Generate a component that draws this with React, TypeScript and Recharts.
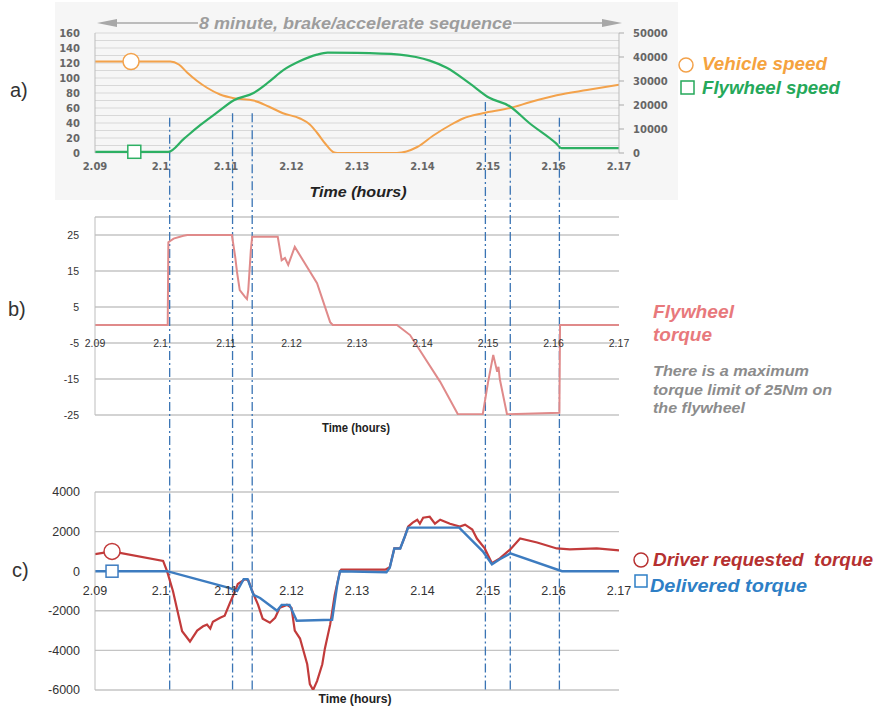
import React from "react";
import {
  LineChart,
  Line,
  XAxis,
  YAxis,
  CartesianGrid,
  ReferenceLine,
  ReferenceDot,
} from "recharts";

// time axis (hours) shared by all three panels
const timeTicks = [2.09, 2.1, 2.11, 2.12, 2.13, 2.14, 2.15, 2.16, 2.17];
// instants marked by the blue dash-dot lines
const eventTimes = [2.1014, 2.111, 2.114, 2.1496, 2.1534, 2.1609];
// where the lines start in panel a) (km/h scale)
const eventTopsA = [47, 53, 53, 68, 47, 47];

// a) vehicle speed (left axis) and flywheel speed (right axis, rpm)
const vehicleSpeed = [
  [2.09, 122], [2.1015, 122], [2.1028, 118], [2.1041, 107], [2.1056, 96],
  [2.1071, 87], [2.1091, 78], [2.1112, 73], [2.1142, 70], [2.1165, 62],
  [2.1187, 53], [2.1213, 46], [2.1228, 38], [2.1239, 27], [2.1252, 12],
  [2.1264, 1], [2.127, 0], [2.1361, 0], [2.1392, 8], [2.1416, 23],
  [2.1442, 37], [2.1462, 46], [2.1492, 53], [2.1534, 60], [2.1565, 68],
  [2.1605, 77], [2.1651, 84], [2.17, 91],
];
const flywheelSpeed = [
  [2.09, 500], [2.1012, 500], [2.1036, 6000], [2.1061, 11700], [2.1087, 17000],
  [2.1112, 22000], [2.1142, 25000], [2.1165, 29500], [2.1188, 34600], [2.1213, 38300],
  [2.1239, 41000], [2.1255, 41800], [2.13, 41700], [2.1365, 41000], [2.139, 40000],
  [2.1411, 38500], [2.1437, 35500], [2.1472, 29000], [2.1502, 23000], [2.1533, 19500],
  [2.1563, 12500], [2.1604, 4000], [2.1612, 2000], [2.17, 2000],
];
const speedTicks = [0, 10, 20, 30, 40, 50, 60, 70, 80, 90, 100, 110, 120, 130, 140, 150, 160];
const rpmTicks = [0, 10000, 20000, 30000, 40000, 50000];
const vehicleMarker = [2.0955, 122];
const flywheelMarker = [2.096, 500];

// b) flywheel torque (Nm)
const flywheelTorque = [
  [2.09, 0], [2.1011, 0], [2.1012, 23], [2.102, 24], [2.1035, 24.8], [2.1041, 25],
  [2.1109, 25], [2.1114, 19], [2.1117, 14.5], [2.1121, 9.7], [2.1129, 7.8],
  [2.1132, 7.2], [2.1134, 9.7], [2.1138, 21], [2.114, 24.5], [2.1179, 24.5],
  [2.1185, 18], [2.119, 18.6], [2.1195, 16.7], [2.1205, 21.7], [2.1239, 11.6],
  [2.1259, 0.8], [2.1263, 0], [2.1361, 0], [2.1381, -2.8], [2.1427, -15.8],
  [2.1454, -24.8], [2.1492, -24.8], [2.15, -16], [2.1508, -8.3], [2.1514, -13],
  [2.1516, -11.6], [2.1518, -15], [2.1529, -24.8], [2.1609, -24.4], [2.161, 0],
  [2.17, 0],
];
const torqueTicks = [-25, -15, -5, 5, 15, 25];

// c) driver requested vs delivered torque
const driverTorque = [
  [2.09, 860], [2.0926, 1000], [2.1004, 520], [2.101, 0], [2.1019, -1000],
  [2.1033, -3030], [2.1045, -3550], [2.1056, -3000], [2.1065, -2780], [2.1071, -2700],
  [2.1076, -2900], [2.108, -2550], [2.1091, -2350], [2.1098, -2250], [2.1106, -1600],
  [2.1114, -1000], [2.1118, -650], [2.1129, -400], [2.1134, -450], [2.114, -1000],
  [2.1149, -1700], [2.1156, -2400], [2.1167, -2600], [2.1175, -2350], [2.1182, -1850],
  [2.1193, -1700], [2.12, -1850], [2.1205, -3000], [2.1213, -3400], [2.1224, -4700],
  [2.1228, -5700], [2.1233, -6000], [2.1239, -5550], [2.1247, -4700], [2.1251, -3900],
  [2.1259, -2700], [2.1266, -1200], [2.1274, 0], [2.1276, 80], [2.1343, 80],
  [2.135, 200], [2.1357, 1150], [2.1366, 1150], [2.1373, 1750], [2.1378, 2250],
  [2.1385, 2450], [2.1392, 2600], [2.1396, 2400], [2.1401, 2700], [2.1411, 2750],
  [2.1419, 2400], [2.1427, 2600], [2.1442, 2400], [2.1457, 2250], [2.1465, 2350],
  [2.1476, 2100], [2.1483, 1650], [2.1495, 1150], [2.1506, 400], [2.1518, 650],
  [2.1534, 1100], [2.1549, 1650], [2.1575, 1450], [2.1605, 1150], [2.1625, 1100],
  [2.1666, 1150], [2.17, 1050],
];
const deliveredTorque = [
  [2.09, 0], [2.101, 0], [2.1106, -850], [2.1117, -1000], [2.1127, -400],
  [2.1133, -400], [2.1142, -1200], [2.1152, -1350], [2.1178, -2000], [2.1185, -1700],
  [2.1197, -1700], [2.1208, -2500], [2.1262, -2450], [2.127, -650], [2.1274, 0],
  [2.1345, -50], [2.135, 170], [2.1357, 1150], [2.1366, 1150], [2.1373, 1750],
  [2.1378, 2200], [2.1456, 2200], [2.1492, 1000], [2.1506, 350], [2.1518, 600],
  [2.1534, 900], [2.1613, 0], [2.17, 0],
];
const wheelTorqueTicks = [-6000, -4000, -2000, 0, 2000, 4000];
const driverMarker = [2.0926, 1000];
const deliveredMarker = [2.0926, 0];

const rows = (pts: number[][]) => pts.map(([t, v]) => ({ t, v }));

const EVENT = "#3a74b4";
const DASH = "9 3 2 3";
const SANS = '"Liberation Sans", Arial, sans-serif';

const TimeTick = (props: any) => {
  const { x, y, payload, lift, style } = props;
  return (
    <text x={x} y={y + lift} textAnchor="middle" dominantBaseline="central" style={style}>
      {Number(payload.value.toFixed(2))}
    </text>
  );
};

const Square = (size: number, color: string) => (p: any) => (
  <rect x={p.cx - size / 2} y={p.cy - size / 2} width={size} height={size} fill="#fff" stroke={color} strokeWidth={1.5} />
);

const boldTick = { fontFamily: "DejaVu Sans", fontWeight: "bold", fontSize: 10, fill: "#666" };

function PanelA() {
  return (
    <LineChart width={877} height={205} margin={{ top: 33, right: 208, bottom: 51, left: 55 }}>
      <CartesianGrid yAxisId="l" vertical={false} stroke="#d8d8d8" strokeWidth={1.2} />
      <XAxis
        dataKey="t" type="number" domain={[2.09, 2.17]} ticks={timeTicks} interval={0} allowDataOverflow
        height={1} tickSize={0} tickMargin={0} axisLine={false} tickLine={false}
        tick={(p: any) => <TimeTick {...p} lift={13} style={boldTick} />}
      />
      <YAxis
        yAxisId="l" domain={[0, 160]} ticks={speedTicks} interval={0} allowDataOverflow width={40}
        tickSize={0} tickMargin={15} axisLine={{ stroke: "#bdbdbd" }}
        tickFormatter={(v: number) => (v % 20 === 0 ? String(v) : "")} tick={boldTick}
      />
      <YAxis
        yAxisId="r" orientation="right" domain={[0, 50000]} ticks={rpmTicks} interval={0} allowDataOverflow
        width={50} tickSize={5} tickMargin={9} axisLine={{ stroke: "#bdbdbd" }} tickLine={{ stroke: "#aaa" }}
        tick={boldTick}
      />
      {eventTimes.map((t, i) => (
        <ReferenceLine key={i} yAxisId="l" segment={[{ x: t, y: eventTopsA[i] }, { x: t, y: -80 }]}
          ifOverflow="visible" stroke={EVENT} strokeWidth={1.3} strokeDasharray={DASH} />
      ))}
      <Line yAxisId="l" data={rows(vehicleSpeed)} dataKey="v" type="monotone" stroke="#f3a24b"
        strokeWidth={2} dot={false} activeDot={false} isAnimationActive={false} />
      <Line yAxisId="r" data={rows(flywheelSpeed)} dataKey="v" type="monotone" stroke="#2db063"
        strokeWidth={2.2} dot={false} activeDot={false} isAnimationActive={false} />
      <ReferenceDot yAxisId="l" x={vehicleMarker[0]} y={vehicleMarker[1]} r={8} fill="#fff" stroke="#f3a24b" strokeWidth={1.5} />
      <ReferenceDot yAxisId="r" x={flywheelMarker[0]} y={flywheelMarker[1]} r={6} shape={Square(13, "#2db063")} />
    </LineChart>
  );
}

function PanelB() {
  const tickStyle = { fontFamily: SANS, fontSize: 10.5, fill: "#333" };
  return (
    <LineChart width={877} height={250} margin={{ top: 12, right: 258, bottom: 39, left: 55 }}>
      <CartesianGrid vertical={false} stroke="#c4c4c4" strokeWidth={1.4} />
      <XAxis
        dataKey="t" type="number" domain={[2.09, 2.17]} ticks={timeTicks} interval={0} allowDataOverflow
        height={1} tickSize={0} tickMargin={0} axisLine={false} tickLine={false}
        tick={(p: any) => <TimeTick {...p} lift={-72} style={tickStyle} />}
      />
      <YAxis
        domain={[-25, 30]} ticks={torqueTicks} interval={0} allowDataOverflow width={40}
        tickSize={0} tickMargin={16} axisLine={{ stroke: "#bdbdbd" }} tick={tickStyle}
      />
      <ReferenceLine y={0} stroke="#bdbdbd" strokeWidth={1.4} />
      {eventTimes.map((t, i) => (
        <ReferenceLine key={i} segment={[{ x: t, y: 40 }, { x: t, y: -40 }]}
          ifOverflow="visible" stroke={EVENT} strokeWidth={1.3} strokeDasharray={DASH} />
      ))}
      <Line data={rows(flywheelTorque)} dataKey="v" type="linear" stroke="#e08a8a"
        strokeWidth={2} dot={false} activeDot={false} isAnimationActive={false} />
    </LineChart>
  );
}

function PanelC() {
  const tickStyle = { fontFamily: SANS, fontSize: 12.5, fill: "#333" };
  return (
    <LineChart width={877} height={254} margin={{ top: 37, right: 258, bottom: 18, left: 55 }}>
      <CartesianGrid vertical={false} stroke="#c4c4c4" strokeWidth={1.4} />
      <XAxis
        dataKey="t" type="number" domain={[2.09, 2.17]} ticks={timeTicks} interval={0} allowDataOverflow
        height={1} tickSize={0} tickMargin={0} axisLine={false} tickLine={false}
        tick={(p: any) => <TimeTick {...p} lift={-99} style={tickStyle} />}
      />
      <YAxis
        domain={[-6000, 4000]} ticks={wheelTorqueTicks} interval={0} allowDataOverflow width={40}
        tickSize={0} tickMargin={15} axisLine={{ stroke: "#bdbdbd" }} tick={tickStyle}
      />
      {eventTimes.map((t, i) => (
        <ReferenceLine key={i} segment={[{ x: t, y: 6500 }, { x: t, y: -6000 }]}
          ifOverflow="visible" stroke={EVENT} strokeWidth={1.3} strokeDasharray={DASH} />
      ))}
      <Line data={rows(driverTorque)} dataKey="v" type="linear" stroke="#c23b3b"
        strokeWidth={2.2} dot={false} activeDot={false} isAnimationActive={false} />
      <Line data={rows(deliveredTorque)} dataKey="v" type="linear" stroke="#3d7cc0"
        strokeWidth={2.4} dot={false} activeDot={false} isAnimationActive={false} />
      <ReferenceDot x={driverMarker[0]} y={driverMarker[1]} r={8} fill="#fff" stroke="#c23b3b" strokeWidth={1.5} />
      <ReferenceDot x={deliveredMarker[0]} y={deliveredMarker[1]} r={6} shape={Square(12, "#3d7cc0")} />
    </LineChart>
  );
}

export default function App() {
  const bi = { fontFamily: SANS, fontWeight: "bold", fontStyle: "italic" } as const;
  return (
    <div style={{ position: "absolute", left: 0, top: 0, width: 877, height: 709, background: "#fff", overflow: "hidden" }}>
      <div style={{ position: "absolute", left: 55, top: 2, width: 623, height: 198, background: "#f6f6f6" }} />
      <div style={{ position: "absolute", left: 0, top: 0 }}><PanelA /></div>
      <div style={{ position: "absolute", left: 0, top: 205 }}><PanelB /></div>
      <div style={{ position: "absolute", left: 0, top: 455 }}><PanelC /></div>
      <svg width={877} height={709} style={{ position: "absolute", left: 0, top: 0, pointerEvents: "none" }}>
        {/* sequence arrow */}
        <line x1={115} y1={23} x2={198} y2={23} stroke="#a8a8a8" strokeWidth={1.5} />
        <polygon points="97,23 117,19 117,27" fill="#a8a8a8" />
        <line x1={513} y1={23} x2={604} y2={23} stroke="#a8a8a8" strokeWidth={1.5} />
        <polygon points="622,23 602,19 602,27" fill="#a8a8a8" />
        <text x={355.5} y={29} textAnchor="middle" fontSize={17} fill="#9d9d9d" textLength={313} lengthAdjust="spacingAndGlyphs" style={bi}>
          8 minute, brake/accelerate sequence
        </text>

        <text x={10} y={97} fontSize={20} fill="#333" fontFamily={SANS}>a)</text>
        <text x={8} y={316} fontSize={20} fill="#333" fontFamily={SANS}>b)</text>
        <text x={12} y={577} fontSize={20} fill="#333" fontFamily={SANS}>c)</text>

        <text x={358} y={197} textAnchor="middle" fontSize={15} fill="#222" textLength={97} lengthAdjust="spacingAndGlyphs" style={bi}>Time (hours)</text>
        <text x={356} y={432} textAnchor="middle" fontSize={12} fill="#222" fontWeight="bold" fontFamily={SANS} textLength={68} lengthAdjust="spacingAndGlyphs">Time (hours)</text>
        <text x={355} y={703} textAnchor="middle" fontSize={12} fill="#222" fontWeight="bold" fontFamily={SANS} textLength={73} lengthAdjust="spacingAndGlyphs">Time (hours)</text>

        {/* legend a */}
        <circle cx={686} cy={65} r={7} fill="none" stroke="#f3a24b" strokeWidth={1.5} />
        <text x={702} y={70} fontSize={18} fill="#f5a33f" textLength={125} lengthAdjust="spacingAndGlyphs" style={bi}>Vehicle speed</text>
        <rect x={681} y={81} width={13} height={13} fill="none" stroke="#25a85a" strokeWidth={1.5} />
        <text x={702} y={94} fontSize={18} fill="#25a85a" textLength={138} lengthAdjust="spacingAndGlyphs" style={bi}>Flywheel speed</text>

        {/* legend b */}
        <text x={653} y={318} fontSize={18} fill="#e8797c" textLength={81} lengthAdjust="spacingAndGlyphs" style={bi}>Flywheel</text>
        <text x={653} y={341} fontSize={18} fill="#e8797c" textLength={59} lengthAdjust="spacingAndGlyphs" style={bi}>torque</text>
        <text x={653} y={376} fontSize={14.5} fill="#8c8c8c" textLength={156} lengthAdjust="spacingAndGlyphs" style={bi}>There is a maximum</text>
        <text x={653} y={395} fontSize={14.5} fill="#8c8c8c" textLength={179} lengthAdjust="spacingAndGlyphs" style={bi}>torque limit of 25Nm on</text>
        <text x={653} y={413} fontSize={14.5} fill="#8c8c8c" textLength={92} lengthAdjust="spacingAndGlyphs" style={bi}>the flywheel</text>

        {/* legend c */}
        <circle cx={641} cy={560} r={7} fill="none" stroke="#b83232" strokeWidth={1.5} />
        <text x={653} y={566} fontSize={19} fill="#b53030" textLength={220} lengthAdjust="spacingAndGlyphs" style={{ ...bi, whiteSpace: "pre" }}>Driver requested  torque</text>
        <rect x={635} y={575} width={12} height={12} fill="none" stroke="#2e7fc6" strokeWidth={1.5} />
        <text x={650} y={592} fontSize={19} fill="#2e7fc6" textLength={157} lengthAdjust="spacingAndGlyphs" style={bi}>Delivered torque</text>
      </svg>
    </div>
  );
}
